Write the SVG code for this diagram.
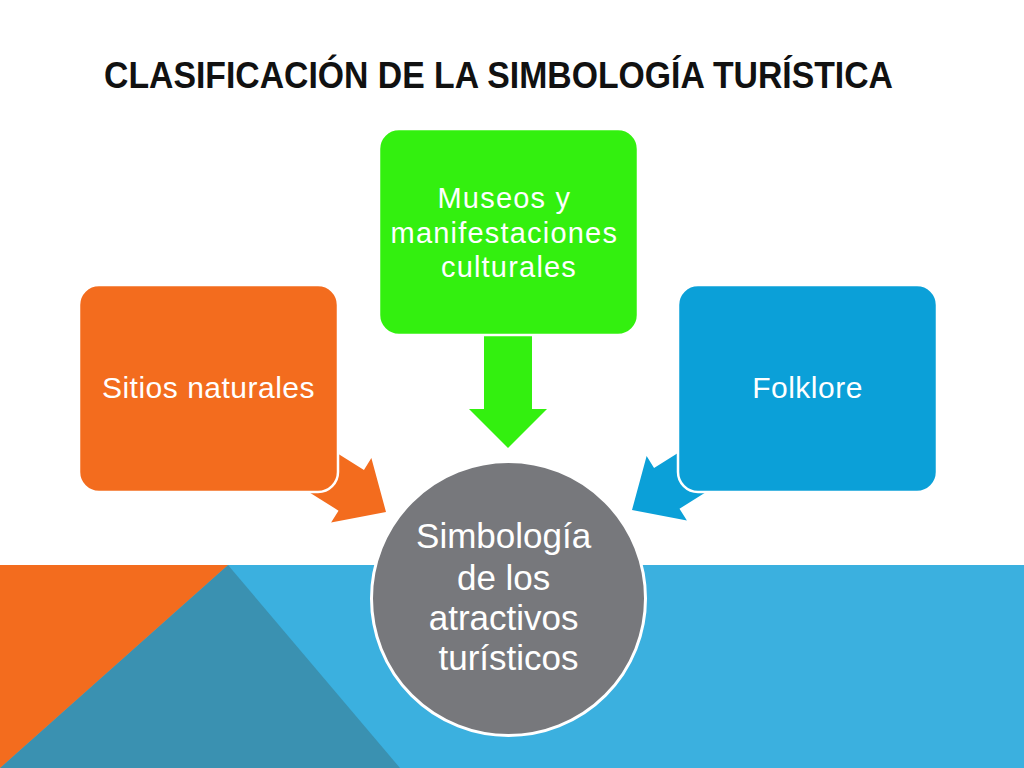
<svg xmlns="http://www.w3.org/2000/svg" width="1024" height="768" viewBox="0 0 1024 768">
  <style>
    .lbl { font-family: "Liberation Sans", Arial, sans-serif; fill: #ffffff; text-anchor: middle; }
    .box { stroke: #ffffff; stroke-width: 2.5; }
    .title { font-family: "Liberation Sans", Arial, sans-serif; font-weight: bold; fill: #111111; }
  </style>
  <defs>
    <path id="arrowShape" d="M0,0 L-41,-38 L-41,-24 L-110,-24 L-110,24 L-41,24 L-41,38 Z"/>
  </defs>
  <rect x="0" y="0" width="1024" height="768" fill="#ffffff"/>
  <g id="background">
    <rect x="0" y="565" width="1024" height="203" fill="#3BB0DF"/>
    <polygon points="228,565 400,768 0,768" fill="#3A91B1"/>
    <polygon points="0,565 228,565 0,768" fill="#F36C1E"/>
  </g>
  <text class="title" x="104" y="88" font-size="37" textLength="789" lengthAdjust="spacingAndGlyphs">CLASIFICACIÓN DE LA SIMBOLOGÍA TURÍSTICA</text>
  <g id="connectors">
    <use href="#arrowShape" transform="translate(386,512) rotate(32)" fill="#F36C1E"/>
    <use href="#arrowShape" transform="translate(632,510) rotate(148)" fill="#0BA0D8"/>
    <path d="M508,448 L469,409 L484,409 L484,330 L532,330 L532,409 L547,409 Z" fill="#33F00F"/>
  </g>
  <g id="node-sitios">
    <rect class="box" x="79" y="285" width="259" height="207" rx="20" fill="#F36C1E"/>
    <text class="lbl" x="208.5" y="398" font-size="30" letter-spacing="0.5">Sitios naturales</text>
  </g>
  <g id="node-museos">
    <rect class="box" x="379" y="129" width="259" height="206" rx="20" fill="#33F00F"/>
    <text class="lbl" font-size="29" letter-spacing="1.2">
      <tspan x="509" y="208">Museos y</tspan>
      <tspan x="509" y="243">manifestaciones</tspan>
      <tspan x="509" y="277">culturales</tspan>
    </text>
  </g>
  <g id="node-folklore">
    <rect class="box" x="678" y="285" width="259" height="207" rx="20" fill="#0BA0D8"/>
    <text class="lbl" x="807.5" y="398" font-size="30" letter-spacing="0.5">Folklore</text>
  </g>
  <g id="node-simbologia">
    <circle cx="508.5" cy="598.5" r="137" fill="#77787C" stroke="#ffffff" stroke-width="3"/>
    <text class="lbl" font-size="35">
      <tspan x="508.5" y="548">Simbología</tspan>
      <tspan x="508.5" y="590">de los</tspan>
      <tspan x="508.5" y="630">atractivos</tspan>
      <tspan x="508.5" y="670">turísticos</tspan>
    </text>
  </g>
</svg>
